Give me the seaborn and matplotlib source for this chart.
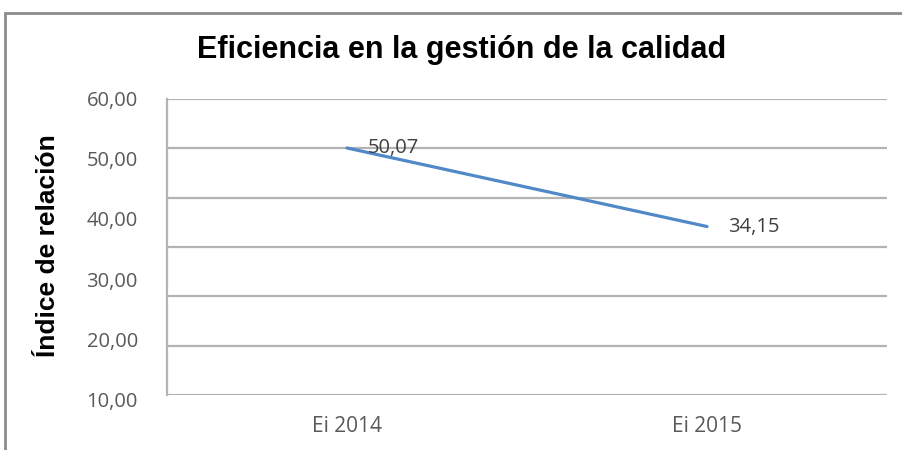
import matplotlib
matplotlib.use("Agg")
import matplotlib.pyplot as plt
import seaborn as sns
import pandas as pd
from matplotlib.patches import Rectangle

categories = ["Ei 2014", "Ei 2015"]
values = [50.07, 34.15]
value_labels = ["50,07", "34,15"]
grid_values = [0, 10, 20, 30, 40, 50, 60]
ytick_labels = ["60,00", "50,00", "40,00", "30,00", "20,00", "10,00"]

sns.set_theme(style="white")
plt.rcParams['font.family'] = ['Liberation Sans', 'DejaVu Sans']

df = pd.DataFrame({"cat": categories, "val": values})

W, H = 903, 450
fig = plt.figure(figsize=(W / 100, H / 100), dpi=100)
ax = fig.add_axes([167 / W, 1 - 395 / H, (887 - 167) / W, (395 - 99) / H])

sns.lineplot(data=df, x="cat", y="val", ax=ax, color="#5088c8", linewidth=2.3, sort=False)

ax.set_xticks(range(len(categories)))
ax.set_xticklabels(categories, fontfamily="Open Sans", fontsize=15, color="#595959")
# gridlines (major ticks, unlabeled)
ax.set_yticks(grid_values)
ax.set_yticklabels([""] * len(grid_values))
ax.set_xlim(-0.5, 1.5)
ax.set_ylim(0, 60)

# tick labels as drawn in the reference (label column spaced wider than the grid)
label_top, label_step = 59.6, 12.2
for i, lab in enumerate(ytick_labels):
    ax.annotate(lab, (0, label_top - i * label_step), xycoords=ax.get_yaxis_transform(),
                xytext=(-21, 0), textcoords="offset points", ha="right", va="center",
                fontfamily="Open Sans", fontsize=14.5, color="#595959", annotation_clip=False)

ax.tick_params(axis="y", length=0)
ax.tick_params(axis="x", length=0, pad=15)
ax.grid(axis="y", color="#b3b3b3", linewidth=1.6)
ax.grid(axis="x", visible=False)
for s in ["top", "right", "bottom"]:
    ax.spines[s].set_visible(False)
ax.spines["left"].set_color("#b3b3b3")
ax.spines["left"].set_linewidth(1.6)
ax.set_xlabel("")
ax.set_ylabel("")

fig.text(48 / W, 1 - 246 / H, "Índice de relación", rotation=90, ha="center", va="center",
         fontsize=19, fontweight="bold", color="black")

for i, (v, lab) in enumerate(zip(values, value_labels)):
    ax.annotate(lab, (i, v), xytext=(15, 0), textcoords="offset points",
                ha="left", va="center", fontfamily="Open Sans", fontsize=14.5, color="#404040")

fig.text(462 / W, 1 - 50 / H, "Eficiencia en la gestión de la calidad", ha="center", va="center",
         fontsize=22, fontweight="bold", color="black")

fig.patches.append(Rectangle((5 / W, -0.1), 1.2, 1 - 13 / H + 0.1, transform=fig.transFigure,
                             fill=False, edgecolor="#8c8c8c", linewidth=2))

fig.savefig("out.png", dpi=100)
